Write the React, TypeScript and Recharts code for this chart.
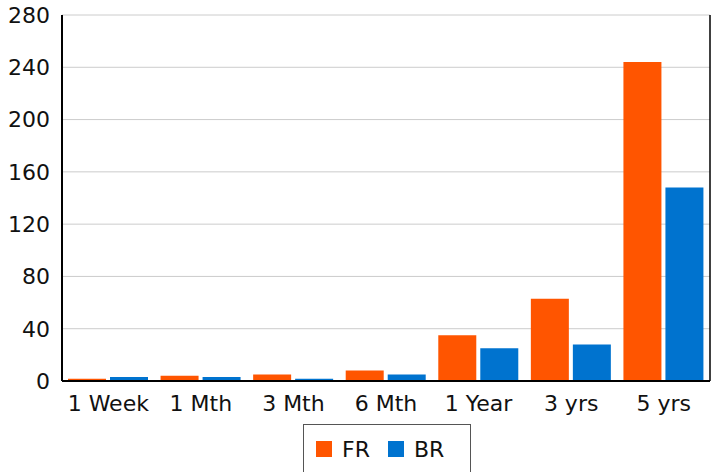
import { BarChart, Bar, XAxis, YAxis, CartesianGrid, Legend } from "recharts";

const periods = ["1 Week", "1 Mth", "3 Mth", "6 Mth", "1 Year", "3 yrs", "5 yrs"];
const frValues = [1.8, 4, 5, 8, 35, 63, 244];
const brValues = [3, 3, 1.8, 5, 25, 28, 148];
const yTicks = [0, 40, 80, 120, 160, 200, 240, 280];

const data = periods.map((p, i) => ({ period: p, FR: frValues[i], BR: brValues[i] }));

const FONT = "'DejaVu Sans', Verdana, sans-serif";

function LegendBox() {
  const items = [
    { label: "FR", color: "#FF5500" },
    { label: "BR", color: "#0073CF" },
  ];
  return (
    <div
      style={{
        border: "1px solid #555",
        height: 50,
        boxSizing: "border-box",
        display: "flex",
        alignItems: "center",
        paddingLeft: 12,
        fontFamily: FONT,
        fontSize: 22,
        color: "#111",
        background: "#fff",
      }}
    >
      {items.map((it) => (
        <div key={it.label} style={{ display: "flex", alignItems: "center", marginRight: 18 }}>
          <span style={{ width: 16, height: 16, background: it.color, display: "inline-block", marginRight: 10 }} />
          <span>{it.label}</span>
        </div>
      ))}
    </div>
  );
}

export default function App() {
  return (
    <div style={{ position: "absolute", top: 0, left: 0, background: "#fff" }}>
      <BarChart
        width={716}
        height={472}
        data={data}
        margin={{ top: 15, right: 5, left: 0, bottom: 13 }}
        barSize={38}
        barGap={4}
      >
        <CartesianGrid vertical={false} stroke="#cccccc" yAxisId="left" />
        <XAxis
          dataKey="period"
          height={30}
          axisLine={{ stroke: "#000", strokeWidth: 2 }}
          tickLine={false}
          tick={{ fontSize: 22, fill: "#111", fontFamily: FONT, dy: 6 }}
          interval={0}
        />
        <YAxis
          yAxisId="left"
          width={62}
          domain={[0, 280]}
          ticks={yTicks}
          axisLine={{ stroke: "#000", strokeWidth: 2 }}
          tickLine={false}
          tick={{ fontSize: 22, fill: "#111", fontFamily: FONT }}
          tickMargin={6}
        />
        <YAxis
          yAxisId="right"
          orientation="right"
          width={1}
          domain={[0, 280]}
          ticks={yTicks}
          tick={false}
          tickLine={false}
          axisLine={{ stroke: "#000", strokeWidth: 1.5 }}
        />
        <Legend
          verticalAlign="bottom"
          height={48}
          content={() => <LegendBox />}
          wrapperStyle={{ top: 424, left: 303, width: 168, bottom: "auto" }}
        />
        <Bar yAxisId="left" dataKey="FR" fill="#FF5500" isAnimationActive={false} />
        <Bar yAxisId="left" dataKey="BR" fill="#0073CF" isAnimationActive={false} />
      </BarChart>
    </div>
  );
}
